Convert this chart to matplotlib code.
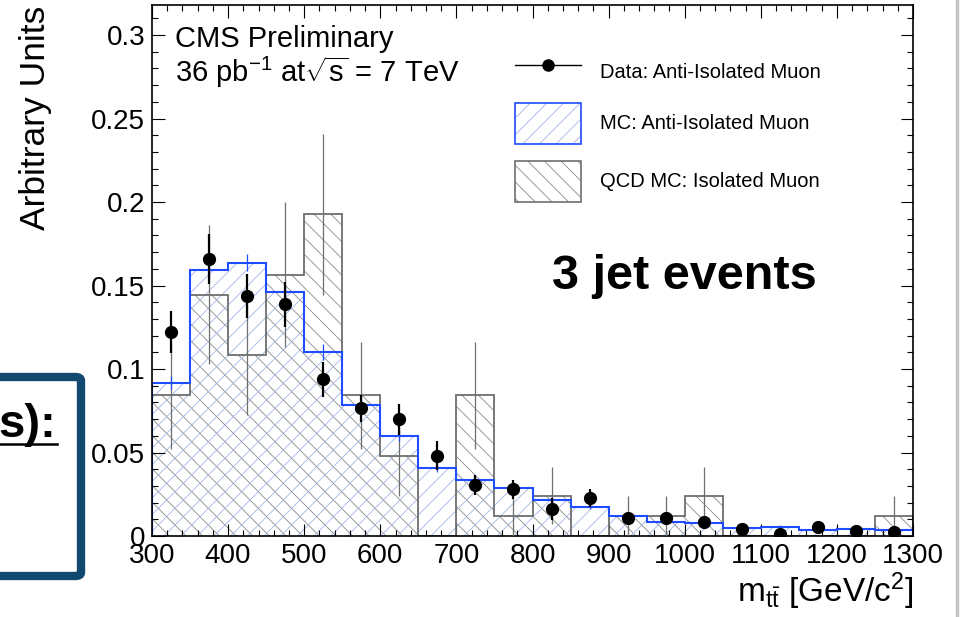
import numpy as np
import matplotlib
matplotlib.use("Agg")
import matplotlib.pyplot as plt
from matplotlib.patches import Rectangle, FancyBboxPatch
from matplotlib.lines import Line2D
from matplotlib.legend_handler import HandlerTuple
from matplotlib.ticker import MultipleLocator, FormatStrFormatter

plt.rcParams['font.family'] = ['Liberation Sans', 'DejaVu Sans']
plt.rcParams['mathtext.fontset'] = 'custom'
plt.rcParams['mathtext.rm'] = 'Liberation Sans'
plt.rcParams['mathtext.it'] = 'Liberation Sans:italic'
plt.rcParams['mathtext.bf'] = 'Liberation Sans:bold'
plt.rcParams['hatch.linewidth'] = 0.6

# ---- binning of the ttbar invariant mass (GeV/c^2) ----
mass_edges = np.arange(300, 1350, 50)

# ---- data: anti-isolated muon sample (normalised) ----
data_vals = [0.1220, 0.1661, 0.1437, 0.1389, 0.0938, 0.0765, 0.0699, 0.0481,
             0.0305, 0.0280, 0.0162, 0.0226, 0.0106, 0.0106, 0.0082, 0.0040,
             0.0014, 0.0056, 0.0032, 0.0022]
data_errs = [0.0125, 0.0150, 0.0133, 0.0135, 0.0105, 0.0080, 0.0093, 0.0087,
             0.0060, 0.0057, 0.0065, 0.0055, 0.0037, 0.0037, 0.0032, 0.0023,
             0.0013, 0.0027, 0.0020, 0.0017]

# ---- MC: anti-isolated muon ----
mc_vals = [0.0918, 0.1595, 0.1637, 0.1463, 0.1104, 0.0784, 0.0601, 0.0409,
           0.0335, 0.0285, 0.0216, 0.0176, 0.0120, 0.0084, 0.0078, 0.0046,
           0.0056, 0.0036, 0.0044, 0.0036]
mc_errs = [0.0040, 0.0050, 0.0050, 0.0048, 0.0048, 0.0036, 0.0032, 0.0026,
           0.0024, 0.0022, 0.0019, 0.0017, 0.0014, 0.0012, 0.0012, 0.0009,
           0.0010, 0.0008, 0.0009, 0.0008]

# ---- QCD MC: isolated muon ----
qcd_vals = [0.0843, 0.1446, 0.1084, 0.1566, 0.1928, 0.0843, 0.0482, 0.0,
            0.0843, 0.0120, 0.0241, 0.0, 0.0120, 0.0120, 0.0241, 0.0,
            0.0, 0.0, 0.0, 0.0120]
qcd_errs = [0.0319, 0.0417, 0.0361, 0.0434, 0.0482, 0.0319, 0.0241, 0.0,
            0.0319, 0.0120, 0.0170, 0.0, 0.0120, 0.0120, 0.0170, 0.0,
            0.0, 0.0, 0.0, 0.0120]

legend_labels = ['Data: Anti-Isolated Muon', 'MC: Anti-Isolated Muon',
                 'QCD MC: Isolated Muon']

W, H = 963, 617


def fx(px):
    return px / W


def fy(py):
    return 1 - py / H


blue_line = '#1f4cff'
blue_hatch = '#9fb6e6'
grey_line = '#6e6e6e'
grey_hatch = '#8a8a8a'

fig = plt.figure(figsize=(W / 100, H / 100), dpi=100)
ax = fig.add_axes([fx(152), fy(536), (913 - 152) / W, (536 - 5) / H])

centers = 0.5 * (mass_edges[:-1] + mass_edges[1:])

# hatched fills
ax.stairs(qcd_vals, mass_edges, baseline=0, fill=True, facecolor='none',
          edgecolor=grey_hatch, hatch='\\\\', linewidth=0, zorder=1)
ax.stairs(mc_vals, mass_edges, baseline=0, fill=True, facecolor='none',
          edgecolor=blue_hatch, hatch='//', linewidth=0, zorder=1.1)
# outlines
ax.stairs(qcd_vals, mass_edges, baseline=0, fill=False,
          edgecolor=grey_line, linewidth=1.3, zorder=2)
ax.stairs(mc_vals, mass_edges, baseline=0, fill=False,
          edgecolor=blue_line, linewidth=1.5, zorder=2.1)

# error bars
qv = np.array(qcd_vals)
qe = np.array(qcd_errs)
nz = qv > 0
ax.errorbar(centers[nz], qv[nz], yerr=qe[nz], fmt='none', ecolor=grey_line,
            elinewidth=0.9, capsize=0, zorder=3)
ax.errorbar(centers, mc_vals, yerr=mc_errs, fmt='none', ecolor=blue_line,
            elinewidth=0.9, capsize=0, zorder=3.1)
ax.errorbar(centers, data_vals, yerr=data_errs, fmt='o', color='black',
            markersize=8.5, elinewidth=1.6, capsize=0, zorder=4)

ax.set_xlim(300, 1300)
ax.set_ylim(0, 0.318)

ax.xaxis.set_major_locator(MultipleLocator(100))
ax.xaxis.set_minor_locator(MultipleLocator(20))
ax.yaxis.set_major_locator(MultipleLocator(0.05))
ax.yaxis.set_minor_locator(MultipleLocator(0.01))
ax.yaxis.set_major_formatter(FormatStrFormatter('%g'))
ax.tick_params(axis='both', which='both', direction='in', top=True, right=True,
               width=0.8, labelsize=20)
ax.tick_params(axis='both', which='major', length=9)
ax.tick_params(axis='both', which='minor', length=4.5)
ax.tick_params(axis='y', pad=5)
ax.tick_params(axis='x', pad=5)
for s in ax.spines.values():
    s.set_linewidth(1.2)

# legend: data entry and the two histogram entries
leg_kw = dict(loc='upper left', frameon=False, borderpad=0, borderaxespad=0,
              handlelength=3.27, handleheight=2.75, labelspacing=0.83,
              handletextpad=0.95, fontsize=14.5)
h_data = Line2D([], [], color='black', lw=1.0, marker='o', markersize=8)
leg1 = ax.legend([h_data], legend_labels[:1],
                 bbox_to_anchor=((515 - 152) / 761, (536 - 52) / 531), **leg_kw)
ax.add_artist(leg1)
h_mc = (Rectangle((0, 0), 1, 1, facecolor='none', edgecolor=blue_hatch, hatch='//', lw=0),
        Rectangle((0, 0), 1, 1, facecolor='none', edgecolor=blue_line, lw=1.2))
h_qcd = (Rectangle((0, 0), 1, 1, facecolor='none', edgecolor=grey_hatch, hatch='\\\\', lw=0),
         Rectangle((0, 0), 1, 1, facecolor='none', edgecolor=grey_line, lw=1.2))
ax.legend([h_mc, h_qcd], legend_labels[1:],
          handler_map={tuple: HandlerTuple(ndivide=1)},
          bbox_to_anchor=((515 - 152) / 761, (536 - 103) / 531), **leg_kw)

# annotations
fig.text(fx(175), fy(47), 'CMS Preliminary', fontsize=21, ha='left', va='baseline')
fig.text(fx(175), fy(82), r'36 pb$^{-1}$ at$\sqrt{\mathrm{s}}$ = 7 TeV', fontsize=21,
         ha='left', va='baseline')
fig.text(fx(552), fy(289), '3 jet events', fontsize=35, fontweight='bold',
         ha='left', va='baseline')
fig.text(fx(913), fy(602), r'$\mathrm{m}_{\mathrm{t\bar{t}}}$ [GeV/c$^{2}$]',
         fontsize=24, ha='right', va='baseline')
fig.text(fx(35), fy(6), 'Arbitrary Units', fontsize=25.5, rotation=90,
         ha='center', va='top')

# slide box partially visible on the left
box = FancyBboxPatch((fx(-30), fy(576)), fx(111), (576 - 377) / H,
                     boxstyle='round,pad=0,rounding_size=0.006',
                     transform=fig.transFigure, facecolor='none',
                     edgecolor='#10486f', linewidth=6, zorder=10)
fig.patches.append(box)
fig.text(fx(56), fy(437), 's):', fontsize=34, fontweight='bold',
         ha='right', va='baseline', zorder=11)
fig.add_artist(Line2D([fx(0), fx(57)], [fy(444), fy(444)], color='black',
                      lw=1.8, transform=fig.transFigure))
# slide edge on the right
fig.add_artist(Line2D([fx(957), fx(957)], [0, 1], color='#c4c4c4', lw=2.5,
                      transform=fig.transFigure))

fig.savefig('out.png', dpi=100)
